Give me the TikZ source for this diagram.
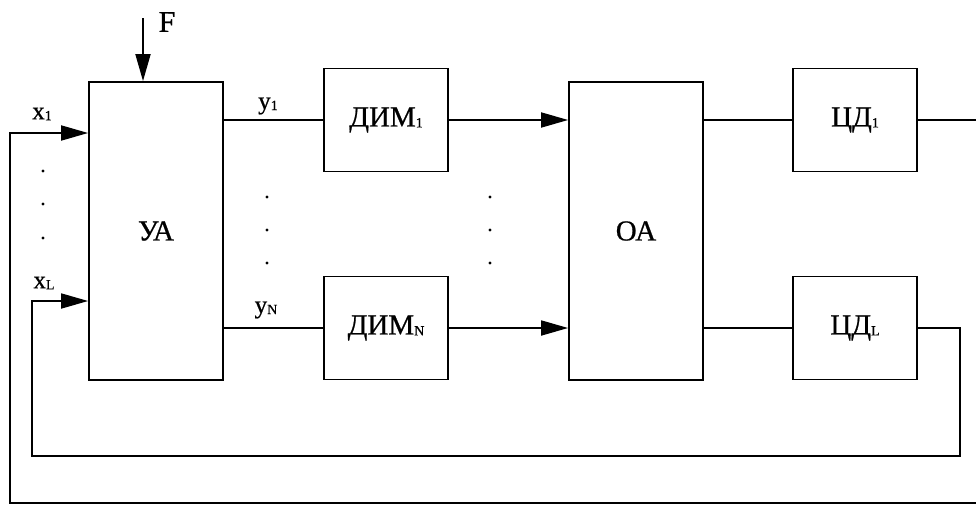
\documentclass[tikz,border=0pt]{standalone}
\usepackage{fontspec}
\setmainfont{Liberation Serif}[FakeBold=0.7]
\usetikzlibrary{arrows.meta}
\newcommand\sbs[1]{\raisebox{-1pt}{\fontsize{14}{14}\selectfont #1}}
\begin{document}
\begin{tikzpicture}[x=1pt,y=-1pt,
  line width=1.8pt,
  blk/.style={draw,rectangle,inner sep=0pt,font=\fontsize{29}{29}\selectfont},
  bigblk/.style={blk,minimum width=134pt,minimum height=298pt},
  smblk/.style={blk,minimum width=124pt,minimum height=103pt},
  arr/.style={-{Triangle[length=27pt,width=15pt]}},
  lbl/.style={inner sep=0pt,font=\fontsize{25}{25}\selectfont},
  dotm/.style={fill,circle,inner sep=0pt,minimum size=3.2pt,draw=none}]
\useasboundingbox (0,0) rectangle (976,506);
% blocks
\node[bigblk] (UA) at (156,231) {УА};
\node[bigblk] (OA) at (636,231) {ОА};
\node[smblk] (DIM1) at (386,120) {ДИМ\sbs{1}};
\node[smblk] (DIMN) at (386,328) {ДИМ\sbs{N}};
\node[smblk] (CD1) at (855,120) {ЦД\sbs{1}};
\node[smblk] (CDL) at (855,328) {ЦД\sbs{L}};
% free ends
\coordinate (Ftop) at (143,18);
\coordinate (out1) at (976,120);
\coordinate (outB) at (976,503);
\coordinate (x1s) at (10,133);
\coordinate (xLs) at (32,301);
\coordinate (fbR) at (960,456);
% F input
\draw[arr] (Ftop) -- (Ftop |- UA.north);
\node[lbl,font=\fontsize{30}{30}\selectfont] (Flab) at (167,22) {F};
% inputs x
\draw[arr] (outB) -- (x1s |- outB) -- (x1s) -- (UA.west |- x1s);
\draw[arr] (CDL.east) -- (fbR |- CDL.east) -- (fbR) -- (xLs |- fbR) -- (xLs) -- (UA.west |- xLs);
\node[lbl] (x1lab) at (42,114) {x\sbs{1}};
\node[lbl] (xLlab) at (44,283) {x\sbs{L}};
% outputs y
\draw (UA.east |- DIM1.west) -- (DIM1.west);
\draw (UA.east |- DIMN.west) -- (DIMN.west);
\node[lbl] (y1lab) at (268,106) {y\sbs{1}};
\node[lbl] (yNlab) at (266,310) {y\sbs{N}};
% DIM -> OA
\draw[arr] (DIM1.east) -- (OA.west |- DIM1.east);
\draw[arr] (DIMN.east) -- (OA.west |- DIMN.east);
% OA -> CD
\draw (OA.east |- CD1.west) -- (CD1.west);
\draw (OA.east |- CDL.west) -- (CDL.west);
\draw (CD1.east) -- (out1);
% dots
\foreach \yy [count=\i] in {171,204,238} \node[dotm] (dl\i) at (43,\yy) {};
\foreach \yy [count=\i] in {197,230,263} \node[dotm] (dm\i) at (267,\yy) {};
\foreach \yy [count=\i] in {197,230,263} \node[dotm] (dr\i) at (490,\yy) {};
\end{tikzpicture}
\end{document}
